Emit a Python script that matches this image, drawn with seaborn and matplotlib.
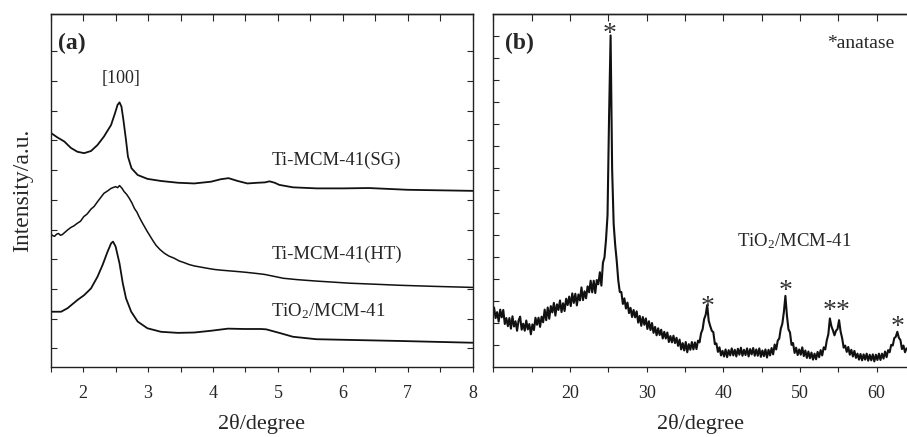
import numpy as np
import pandas as pd
import matplotlib
matplotlib.use("Agg")
import matplotlib.pyplot as plt
from matplotlib.ticker import MultipleLocator, NullFormatter
import seaborn as sns

# ---------------- data: panel (a) ----------------
sg_x = [1.475, 1.60, 1.71, 1.81, 1.91, 2.015, 2.12, 2.22, 2.32, 2.43, 2.49, 2.53, 2.56,
        2.59, 2.62, 2.66, 2.69, 2.745, 2.84, 2.99, 3.20, 3.46, 3.71, 3.97, 4.12, 4.24,
        4.38, 4.53, 4.69, 4.80, 4.87, 4.95, 5.02, 5.23, 5.60, 6.00, 6.40, 7.00, 8.00]
sg_y = [66.7, 65.1, 63.9, 62.1, 61.0, 60.6, 61.2, 62.9, 65.3, 68.6, 71.9, 74.3, 75.0,
        73.8, 70.0, 64.3, 59.6, 56.3, 54.4, 53.3, 52.7, 52.2, 52.0, 52.5, 53.2, 53.5,
        52.7, 52.0, 52.2, 52.3, 52.6, 52.2, 51.6, 50.9, 50.6, 50.6, 50.7, 50.2, 49.9]

ht_x = [1.50, 1.53, 1.56, 1.59, 1.62, 1.65, 1.68, 1.71, 1.76, 1.81, 1.86, 1.91, 1.96,
        2.01, 2.06, 2.12, 2.17, 2.22, 2.27, 2.32, 2.37, 2.43, 2.47, 2.50, 2.53, 2.56,
        2.60, 2.63, 2.67, 2.71, 2.75, 2.79, 2.83, 2.86, 2.90, 2.94, 2.98, 3.02, 3.07,
        3.12, 3.18, 3.25, 3.32, 3.40, 3.48, 3.56, 3.63, 3.71, 3.80, 3.92, 4.02, 4.12,
        4.25, 4.38, 4.50, 4.65, 4.79, 4.95, 5.08, 5.30, 5.59, 5.85, 6.10, 6.50, 6.88,
        7.40, 8.00]
ht_y = [37.7, 37.2, 37.0, 37.6, 37.8, 37.3, 37.5, 38.0, 38.8, 39.5, 40.0, 40.7, 41.3,
        42.6, 43.3, 44.7, 45.5, 46.8, 48.0, 49.2, 49.8, 50.6, 50.9, 51.1, 50.8, 51.4,
        50.6, 49.7, 48.9, 47.8, 46.5, 44.9, 43.8, 42.6, 41.2, 39.9, 38.6, 37.4, 35.9,
        34.5, 33.3, 32.2, 31.4, 30.8, 30.0, 29.5, 29.0, 28.6, 28.3, 27.9, 27.6, 27.4,
        27.2, 27.0, 26.8, 26.5, 26.2, 25.6, 25.1, 24.7, 24.3, 24.0, 23.7, 23.4, 23.1,
        22.8, 22.5]

ti_x = [1.50, 1.66, 1.76, 1.91, 2.015, 2.12, 2.22, 2.30, 2.375, 2.43, 2.46, 2.50, 2.56,
        2.61, 2.66, 2.74, 2.84, 2.99, 3.20, 3.46, 3.71, 3.97, 4.23, 4.48, 4.74, 4.82,
        5.02, 5.23, 5.59, 6.10, 6.88, 8.00]
ti_y = [15.6, 15.6, 16.6, 18.9, 20.3, 22.2, 25.5, 28.9, 32.6, 35.0, 35.5, 34.1, 29.3,
        23.7, 19.4, 15.6, 12.8, 10.9, 9.9, 9.6, 9.7, 10.2, 10.8, 10.7, 10.7, 10.6,
        9.6, 8.5, 7.8, 7.6, 7.3, 6.8]

# ---------------- data: panel (b) ----------------
# 2theta scan from 10.1 to 63.9 degree, step 0.2
tth_b = np.round(np.arange(10.1, 63.95, 0.2), 1)
int_b = [
    16.8, 13.8, 15.5, 12.8, 16.2, 14.0, 16.1, 12.1, 13.8, 11.5,
    13.8, 10.8, 14.3, 11.4, 12.9, 10.2, 13.1, 14.2, 10.5, 12.2,
    10.2, 13.1, 10.6, 12.1, 9.2, 12.0, 10.4, 13.9, 11.9, 13.9,
    11.3, 14.2, 12.6, 16.2, 13.2, 16.8, 13.6, 17.2, 15.4, 18.1,
    14.5, 17.7, 16.1, 18.8, 15.5, 18.0, 15.8, 19.3, 17.5, 19.9,
    17.2, 20.8, 18.1, 20.7, 17.4, 20.5, 18.8, 22.5, 18.9, 21.4,
    19.4, 22.8, 21.1, 24.4, 21.1, 24.4, 20.9, 24.6, 23.4, 26.8,
    23.0, 29.5, 31.0, 36.0, 43.0, 71.0, 94.0, 56.0, 40.5, 34.5,
    30.0, 24.5, 21.2, 21.2, 17.8, 19.4, 16.5, 18.2, 15.2, 16.7,
    14.1, 16.1, 14.0, 15.7, 12.5, 14.4, 11.6, 14.1, 11.9, 13.7,
    10.7, 12.9, 10.4, 12.4, 9.6, 11.3, 8.9, 10.9, 9.0, 10.5,
    8.0, 9.9, 8.0, 9.7, 7.0, 8.7, 6.9, 8.8, 6.7, 8.2,
    5.9, 7.7, 4.9, 6.7, 4.6, 7.0, 4.1, 6.4, 4.8, 7.0,
    4.9, 6.9, 5.0, 7.4, 6.9, 9.5, 10.6, 13.5, 14.7, 17.5,
    13.0, 11.5, 10.2, 9.8, 6.4, 6.6, 4.2, 5.5, 3.2, 4.5,
    2.9, 4.9, 2.7, 4.7, 3.2, 5.2, 3.2, 4.8, 2.9, 5.1,
    3.4, 5.4, 3.1, 4.8, 3.3, 5.2, 2.9, 5.0, 3.5, 5.3,
    3.1, 4.9, 3.1, 5.2, 2.8, 4.6, 3.0, 4.9, 2.6, 4.8,
    3.2, 5.3, 3.5, 6.3, 4.9, 7.4, 8.0, 10.8, 12.2, 15.5,
    20.1, 14.5, 10.6, 9.7, 6.2, 6.7, 3.9, 5.4, 3.3, 4.9,
    3.4, 5.5, 3.0, 4.6, 2.5, 4.3, 2.4, 4.0, 2.0, 3.7,
    2.1, 4.2, 2.7, 4.7, 3.2, 5.5, 4.9, 7.5, 9.2, 13.7,
    11.5, 10.3, 8.9, 10.2, 10.7, 13.2, 10.0, 8.1, 5.4, 6.0,
    4.2, 5.6, 3.4, 4.8, 2.9, 4.5, 2.5, 3.7, 2.0, 3.6,
    1.8, 3.5, 2.0, 3.7, 1.7, 3.4, 1.8, 3.5, 1.5, 3.4,
    1.9, 3.7, 1.9, 3.7, 2.3, 4.3, 2.7, 4.7, 4.1, 6.2,
    6.0, 8.1, 8.5, 9.9, 8.2, 7.6, 5.0, 6.0, 4.1, 5.2,
]

# anatase marks (x, y of asterisk baseline)
star_x = [25.2, 38.0, 48.1, 53.9, 55.6, 62.7]
star_y = [92.4, 15.0, 19.6, 13.9, 13.9, 9.3]

labels_a = ["Ti-MCM-41(SG)", "Ti-MCM-41(HT)", "TiO$_2$/MCM-41"]
labels_a_y = [57.2, 30.5, 14.2]

# ---------------- style ----------------
sns.set_theme(style="ticks")
plt.rcParams["font.family"] = ["Liberation Serif", "DejaVu Serif"]
plt.rcParams["mathtext.default"] = "regular"
plt.rcParams["axes.linewidth"] = 1.0

W, H = 907, 437
fig = plt.figure(figsize=(W / 100, H / 100), dpi=100)
axA = fig.add_axes([50.7 / W, (H - 366.7) / H, (472.7 - 50.7) / W, 352.4 / H])
axB = fig.add_axes([493.3 / W, (H - 366.7) / H, 414.0 / W, 352.4 / H])

lc = "#111111"
dfa = [pd.DataFrame({"x": sg_x, "y": sg_y}),
       pd.DataFrame({"x": ht_x, "y": ht_y}),
       pd.DataFrame({"x": ti_x, "y": ti_y})]
for d, lw in zip(dfa, [1.3, 1.1, 1.3]):
    sns.lineplot(data=d, x="x", y="y", ax=axA, color=lc, lw=lw, sort=False,
                 estimator=None)

dfb = pd.DataFrame({"x": tth_b, "y": int_b})
sns.lineplot(data=dfb, x="x", y="y", ax=axB, color=lc, lw=1.5, sort=False,
             estimator=None)

# ---------------- axes formatting ----------------
fs_tick = 13
for ax in (axA, axB):
    ax.set_ylim(0, 100)
    ax.set_xlabel("2θ/degree", fontsize=16, labelpad=8.5)
    ax.set_ylabel("")
    ax.yaxis.set_major_formatter(NullFormatter())
    ax.tick_params(axis="y", which="both", direction="in", length=4, width=0.8,
                   left=True, right=True)
    ax.tick_params(axis="x", which="both", direction="out", length=3.5, width=0.8,
                   top=False, bottom=True, labelsize=fs_tick, pad=10)
    for s in ax.spines.values():
        s.set_color("#222222")

axA.set_xlim(1.5, 8)
axA.xaxis.set_major_locator(MultipleLocator(1))
axA.xaxis.set_minor_locator(MultipleLocator(0.5))
axA.set_yticks(np.arange(5.2, 92, 8.43))
axA.set_ylabel("Intensity/a.u.", fontsize=17, labelpad=9)

axB.set_xlim(10, 64)
axB.set_xticks([20, 30, 40, 50, 60])
axB.xaxis.set_minor_locator(MultipleLocator(5))
axB.set_yticks(np.arange(6.25, 95, 6.25))
axB.spines["right"].set_visible(False)
axB.tick_params(axis="y", right=False)

# inward ticks on top spine
secA = axA.secondary_xaxis("top")
secA.xaxis.set_major_locator(MultipleLocator(0.5))
secA.tick_params(direction="in", length=5, width=0.8, labeltop=False)
secB = axB.secondary_xaxis("top")
secB.xaxis.set_major_locator(MultipleLocator(5))
secB.tick_params(direction="in", length=5, width=0.8, labeltop=False)

# ---------------- annotations ----------------
axA.text(1.62, 91.8, "(a)", fontsize=17, fontweight="bold", ha="left", va="center")
axA.text(2.583, 80.4, "[100]", fontsize=13, ha="center", va="baseline")
for lab, yy in zip(labels_a, labels_a_y):
    axA.text(4.897, yy, lab, fontsize=13.5, ha="left", va="baseline")

axB.text(11.52, 91.8, "(b)", fontsize=17, fontweight="bold", ha="left", va="center")
axB.text(53.48, 90.3, "*anatase", fontsize=14, ha="left", va="baseline")
axB.text(41.74, 34.1, "TiO$_2$/MCM-41", fontsize=13.5, ha="left", va="baseline")
for sx, sy in zip(star_x, star_y):
    axB.text(sx, sy, "*", fontsize=20, ha="center", va="baseline", color="#333333")

fig.savefig("out.png", dpi=100)
